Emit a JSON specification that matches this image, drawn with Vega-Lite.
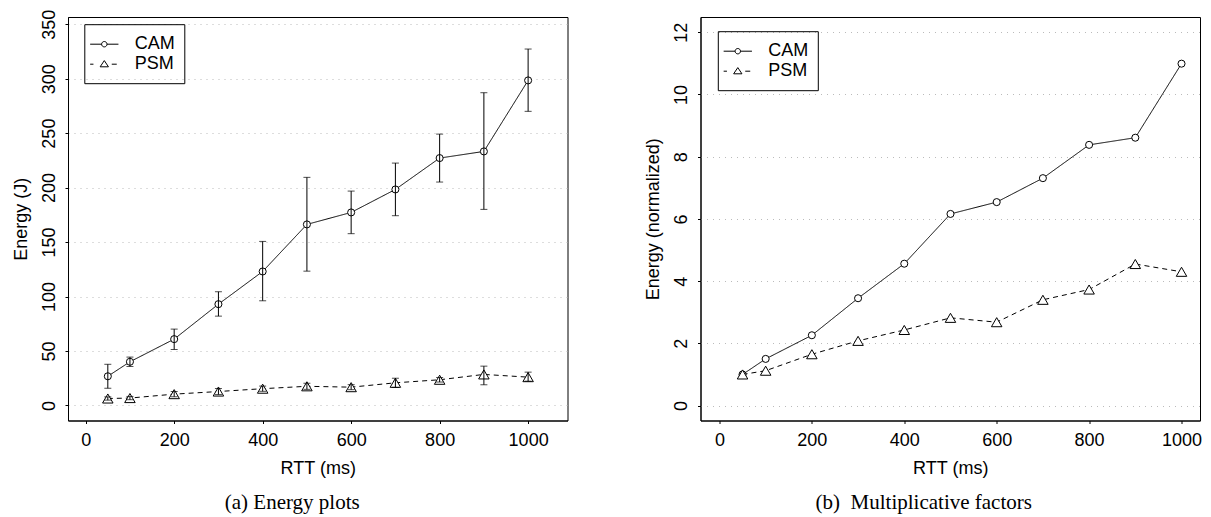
{
  "$schema": "https://vega.github.io/schema/vega-lite/v6.json",
  "background": "white",
  "padding": {"left": 11, "top": 8, "right": 5, "bottom": 5},
  "spacing": 132.5,
  "bounds": "flush",
  "config": {
    "view": {"stroke": "black", "strokeWidth": 1},
    "axis": {
      "labelFont": "Liberation Sans", "labelFontSize": 18, "labelColor": "black",
      "titleFont": "Liberation Sans", "titleFontSize": 18, "titleFontWeight": "normal", "titleColor": "black",
      "tickColor": "black", "tickSize": 3, "domainColor": "black", "domainWidth": 1, "format": "d"
    },
    "axisX": {"grid": false, "labelBaseline": "alphabetic", "labelPadding": 22, "labelAngle": 0, "titleY": 47.5, "titleBaseline": "middle"},
    "axisY": {"grid": true, "gridColor": "#bbbbbb", "gridDash": [1, 5], "gridWidth": 1,
      "labelAngle": -90, "labelAlign": "center", "labelBaseline": "alphabetic", "labelPadding": 11,
      "titleX": -47, "titleBaseline": "middle", "titleAlign": "center"},
    "legend": {
      "strokeColor": "black", "padding": 9.5, "labelFont": "Liberation Sans", "labelFontSize": 18,
      "labelColor": "black", "symbolSize": 400, "labelOffset": 20, "rowPadding": -1, "cornerRadius": 0,
      "symbolStrokeColor": "black", "symbolFillColor": "transparent", "symbolStrokeWidth": 1, "symbolOpacity": 1
    },
    "title": {"font": "Liberation Serif", "fontSize": 21, "fontWeight": "normal", "color": "black", "orient": "bottom", "anchor": "middle", "frame": "group", "offset": 15}
  },
  "datasets": {
    "energy": [
      {"rtt": 50, "series": "CAM", "value": 26.8, "lo": 15.8, "hi": 37.8},
      {"rtt": 100, "series": "CAM", "value": 40.1, "lo": 35.8, "hi": 44.4},
      {"rtt": 200, "series": "CAM", "value": 60.9, "lo": 51.4, "hi": 70.1},
      {"rtt": 300, "series": "CAM", "value": 93.0, "lo": 82.0, "hi": 104.4},
      {"rtt": 400, "series": "CAM", "value": 123.0, "lo": 96.1, "hi": 150.6},
      {"rtt": 500, "series": "CAM", "value": 166.2, "lo": 123.3, "hi": 209.4},
      {"rtt": 600, "series": "CAM", "value": 177.2, "lo": 157.7, "hi": 196.8},
      {"rtt": 700, "series": "CAM", "value": 198.3, "lo": 174.2, "hi": 222.5},
      {"rtt": 800, "series": "CAM", "value": 227.1, "lo": 205.1, "hi": 249.1},
      {"rtt": 900, "series": "CAM", "value": 233.2, "lo": 180.0, "hi": 287.1},
      {"rtt": 1000, "series": "CAM", "value": 298.4, "lo": 270.0, "hi": 327.2},
      {"rtt": 50, "series": "PSM", "value": 6.4, "lo": 4.9, "hi": 7.9},
      {"rtt": 100, "series": "PSM", "value": 6.8, "lo": 5.3, "hi": 8.3},
      {"rtt": 200, "series": "PSM", "value": 10.4, "lo": 8.0, "hi": 12.8},
      {"rtt": 300, "series": "PSM", "value": 12.8, "lo": 10.0, "hi": 15.6},
      {"rtt": 400, "series": "PSM", "value": 15.4, "lo": 13.0, "hi": 17.8},
      {"rtt": 500, "series": "PSM", "value": 17.6, "lo": 14.8, "hi": 20.4},
      {"rtt": 600, "series": "PSM", "value": 16.8, "lo": 14.5, "hi": 19.1},
      {"rtt": 700, "series": "PSM", "value": 20.8, "lo": 16.6, "hi": 25.0},
      {"rtt": 800, "series": "PSM", "value": 23.6, "lo": 21.5, "hi": 25.7},
      {"rtt": 900, "series": "PSM", "value": 28.5, "lo": 19.0, "hi": 36.1},
      {"rtt": 1000, "series": "PSM", "value": 26.0, "lo": 22.3, "hi": 30.6}
    ],
    "factor": [
      {"rtt": 50, "series": "CAM", "value": 1.0},
      {"rtt": 100, "series": "CAM", "value": 1.5},
      {"rtt": 200, "series": "CAM", "value": 2.26},
      {"rtt": 300, "series": "CAM", "value": 3.45},
      {"rtt": 400, "series": "CAM", "value": 4.56},
      {"rtt": 500, "series": "CAM", "value": 6.16},
      {"rtt": 600, "series": "CAM", "value": 6.54},
      {"rtt": 700, "series": "CAM", "value": 7.31},
      {"rtt": 800, "series": "CAM", "value": 8.38},
      {"rtt": 900, "series": "CAM", "value": 8.61},
      {"rtt": 1000, "series": "CAM", "value": 10.99},
      {"rtt": 50, "series": "PSM", "value": 1.0},
      {"rtt": 100, "series": "PSM", "value": 1.12},
      {"rtt": 200, "series": "PSM", "value": 1.65},
      {"rtt": 300, "series": "PSM", "value": 2.08},
      {"rtt": 400, "series": "PSM", "value": 2.43},
      {"rtt": 500, "series": "PSM", "value": 2.82},
      {"rtt": 600, "series": "PSM", "value": 2.68},
      {"rtt": 700, "series": "PSM", "value": 3.4},
      {"rtt": 800, "series": "PSM", "value": 3.73},
      {"rtt": 900, "series": "PSM", "value": 4.55},
      {"rtt": 1000, "series": "PSM", "value": 4.3}
    ]
  },
  "hconcat": [
    {
      "width": 499.5,
      "height": 403.5,
      "title": {"text": "(a) Energy plots", "dx": -25.5},
      "data": {"name": "energy"},
      "encoding": {
        "x": {"field": "rtt", "type": "quantitative", "title": "RTT (ms)",
          "scale": {"domain": [-40, 1089], "nice": false, "zero": false},
          "axis": {"values": [0, 200, 400, 600, 800, 1000]}}
      },
      "layer": [
        {
          "mark": {"type": "line", "color": "black", "strokeWidth": 1},
          "encoding": {
            "y": {"field": "value", "type": "quantitative", "title": "Energy (J)",
              "scale": {"domain": [-13.8, 356.6], "nice": false, "zero": false},
              "axis": {"values": [0, 50, 100, 150, 200, 250, 300, 350]}},
            "strokeDash": {"field": "series", "type": "nominal",
              "scale": {"range": [[1, 0], [5, 4]]}, "legend": null}
          }
        },
        {
          "mark": {"type": "point", "filled": false, "fill": "white", "fillOpacity": 1, "stroke": "black", "strokeWidth": 1, "opacity": 1},
          "encoding": {
            "y": {"field": "value", "type": "quantitative", "title": "Energy (J)"},
            "shape": {"field": "series", "type": "nominal", "scale": {"range": ["circle", "triangle-up"]}, "legend": null},
            "size": {"field": "series", "type": "nominal", "scale": {"range": [50, 110]}, "legend": null}
          }
        },
        {
          "mark": {"type": "errorbar", "color": "black", "ticks": {"size": 7, "thickness": 1, "color": "black"}, "rule": {"strokeWidth": 1, "color": "black"}},
          "encoding": {
            "y": {"field": "lo", "type": "quantitative", "title": "Energy (J)"},
            "y2": {"field": "hi"}
          }
        },
        {
          "mark": {"type": "point", "filled": false, "stroke": "transparent", "fill": "transparent", "strokeWidth": 1},
          "encoding": {
            "y": {"field": "value", "type": "quantitative", "title": "Energy (J)"},
            "shape": {"field": "series", "type": "nominal",
              "scale": {"domain": ["CAM", "PSM"], "range": [
                "M-1.415,0H-0.27M0.27,0H1.415M-0.27,0A0.27,0.27 0 1,1 0.27,0A0.27,0.27 0 1,1 -0.27,0",
                "M-1.415,0H-1.085M0.745,0H1.245M0,-0.36L-0.415,0.26L0.415,0.26Z"]},
              "legend": {"title": null, "orient": "none", "legendX": 16.3, "legendY": 7.2}}
          }
        }
      ],
      "resolve": {"scale": {"shape": "independent"}, "legend": {"shape": "independent"}}
    },
    {
      "width": 499.5,
      "height": 403.5,
      "title": {"text": "(b)\u00a0 Multiplicative factors", "dx": -26.5},
      "data": {"name": "factor"},
      "encoding": {
        "x": {"field": "rtt", "type": "quantitative", "title": "RTT (ms)",
          "scale": {"domain": [-41, 1040], "nice": false, "zero": false},
          "axis": {"values": [0, 200, 400, 600, 800, 1000]}},
        "y": {"field": "value", "type": "quantitative", "title": "Energy (normalized)",
          "scale": {"domain": [-0.48, 12.49], "nice": false, "zero": false},
          "axis": {"values": [0, 2, 4, 6, 8, 10, 12]}}
      },
      "layer": [
        {
          "mark": {"type": "line", "color": "black", "strokeWidth": 1},
          "encoding": {
            "strokeDash": {"field": "series", "type": "nominal",
              "scale": {"range": [[1, 0], [5, 4]]}, "legend": null}
          }
        },
        {
          "mark": {"type": "point", "filled": false, "fill": "white", "fillOpacity": 1, "stroke": "black", "strokeWidth": 1, "opacity": 1},
          "encoding": {
            "shape": {"field": "series", "type": "nominal", "scale": {"range": ["circle", "triangle-up"]}, "legend": null},
            "size": {"field": "series", "type": "nominal", "scale": {"range": [50, 110]}, "legend": null}
          }
        },
        {
          "mark": {"type": "point", "filled": false, "stroke": "transparent", "fill": "transparent", "strokeWidth": 1},
          "encoding": {
            "shape": {"field": "series", "type": "nominal",
              "scale": {"domain": ["CAM", "PSM"], "range": [
                "M-1.415,0H-0.27M0.27,0H1.415M-0.27,0A0.27,0.27 0 1,1 0.27,0A0.27,0.27 0 1,1 -0.27,0",
                "M-1.415,0H-1.085M0.745,0H1.245M0,-0.36L-0.415,0.26L0.415,0.26Z"]},
              "legend": {"title": null, "orient": "none", "legendX": 17.3, "legendY": 14.2}}
          }
        }
      ],
      "resolve": {"scale": {"shape": "independent"}, "legend": {"shape": "independent"}}
    }
  ],
  "resolve": {"scale": {"strokeDash": "independent", "shape": "independent", "size": "independent", "x": "independent", "y": "independent"}, "legend": {"shape": "independent", "strokeDash": "independent"}}
}
